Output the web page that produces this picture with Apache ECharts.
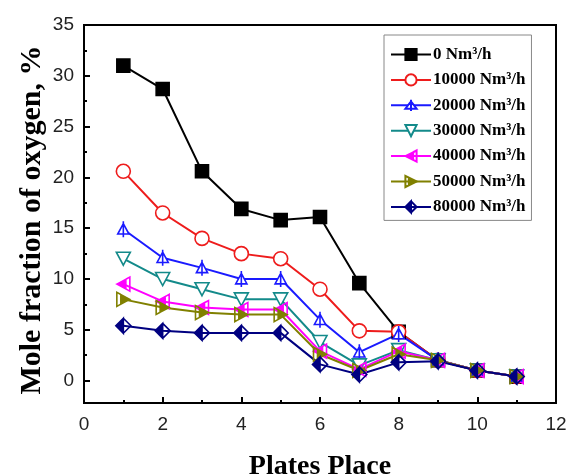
<!DOCTYPE html>
<html>
<head>
<meta charset="utf-8">
<script src="https://cdn.jsdelivr.net/npm/echarts@6/dist/echarts.min.js"></script>
<style>
    html, body {margin: 0; padding: 0; background: #fff;}
    #main {width: 571px; height: 476px;}
</style>
</head>
<body>
<div id="main"></div>
<script>
// 塔板位置
var plates = [1, 2, 3, 4, 5, 6, 7, 8, 9, 10, 11];
var names = ['0 Nm³/h', '10000 Nm³/h', '20000 Nm³/h', '30000 Nm³/h', '40000 Nm³/h', '50000 Nm³/h', '80000 Nm³/h'];
var o0 = [31.0, 28.7, 20.6, 16.9, 15.8, 16.1, 9.6, 4.8, 2.0, 1.0, 0.4];
var o10000 = [20.6, 16.5, 14.0, 12.5, 12.0, 9.0, 4.9, 4.8, 2.0, 1.0, 0.4];
var o20000 = [14.9, 12.1, 11.1, 10.0, 10.0, 6.0, 2.8, 4.6, 2.0, 1.0, 0.4];
var o30000 = [12.0, 10.0, 9.0, 8.0, 8.0, 3.8, 1.5, 3.0, 2.0, 1.0, 0.4];
var o40000 = [9.5, 7.8, 7.2, 7.0, 7.0, 2.9, 1.1, 2.9, 2.0, 1.0, 0.4];
var o50000 = [8.0, 7.2, 6.7, 6.5, 6.5, 2.6, 1.0, 2.6, 2.0, 1.0, 0.4];
var o80000 = [5.4, 4.9, 4.7, 4.7, 4.7, 1.6, 0.6, 1.8, 1.9, 1.0, 0.4];
var yMajor = [0, 5, 10, 15, 20, 25, 30, 35];
var yMinor = [2.5, 7.5, 12.5, 17.5, 22.5, 27.5, 32.5];

var myChart = echarts.init(document.getElementById('main'));

function pairs(arr) {
    return arr.map(function (v, i) { return [plates[i], v]; });
}

// 半填充符号：填充一半，另一半用来回折线只描边
var triUpPlus = 'path://M0,-7L7,6L-7,6Z M0,-10L0,10L0,-10Z';
var triDown = 'path://M0,7L7,-6L-7,-6Z';
var triLeftHalf = 'path://M-7,0L2,-4.8L2,4.8Z M2,-4.8L6,-7L6,7L2,4.8L6,7L6,-7Z';
var triRightHalf = 'path://M7,0L-2,-4.8L-2,4.8Z M-2,-4.8L-6,-7L-6,7L-2,4.8L-6,7L-6,-7Z';
var diamondHalf = 'path://M0,-7L-7,0L0,7Z M0,-7L7,0L0,7L7,0Z';

function makeSeries(name, data, color, symbol, size, fill) {
    return {
        name: name,
        type: 'line',
        data: pairs(data),
        symbol: symbol,
        symbolSize: size,
        symbolKeepAspect: true,
        lineStyle: {color: color, width: 2},
        itemStyle: {color: fill, borderColor: color, borderWidth: 1.6},
        emphasis: {disabled: true},
        animation: false
    };
}

var option = {
    backgroundColor: '#fff',
    grid: {
        left: 84, right: 15, top: 25, bottom: 73,
        outerBoundsMode: 'none',
        containLabel: false,
        show: true, borderColor: '#000', borderWidth: 2
    },
    graphic: [{
        type: 'text',
        x: 32,
        y: 220,
        rotation: Math.PI / 2,
        style: {
            text: 'Mole fraction of oxygen, %',
            fontFamily: 'Liberation Serif',
            fontWeight: 'bold',
            fontSize: 30,
            fill: '#000',
            align: 'center',
            verticalAlign: 'middle'
        }
    }],
    legend: {
        orient: 'vertical',
        left: 384,
        top: 35,
        width: 148,
        padding: [11, 6, 5, 6],
        itemWidth: 40,
        itemHeight: 14,
        itemGap: 8.4,
        borderColor: '#888',
        borderWidth: 1,
        backgroundColor: '#fff',
        textStyle: {
            fontFamily: 'Liberation Serif',
            fontWeight: 'bold',
            fontSize: 17,
            color: '#000',
            padding: [0, 0, 0, -3]
        },
        data: names
    },
    xAxis: {
        type: 'value',
        min: 0,
        max: 12,
        interval: 2,
        name: 'Plates Place',
        nameLocation: 'middle',
        nameGap: 50,
        nameTextStyle: {fontFamily: 'Liberation Serif', fontWeight: 'bold', fontSize: 28, color: '#000'},
        axisLine: {onZero: false, lineStyle: {color: '#000', width: 2}},
        axisTick: {inside: true, length: 6, lineStyle: {color: '#000', width: 2}},
        minorTick: {show: true, splitNumber: 2, length: 3, lineStyle: {color: '#000', width: 2}},
        axisLabel: {fontFamily: 'Liberation Sans', fontSize: 19, color: '#222', margin: 12},
        splitLine: {show: false}
    },
    yAxis: [{
        type: 'value',
        min: -2.2,
        max: 35,
        axisLine: {onZero: false, lineStyle: {color: '#000', width: 2}},
        axisTick: {inside: true, length: 6, customValues: yMajor, lineStyle: {color: '#000', width: 2}},
        axisLabel: {fontFamily: 'Liberation Sans', fontSize: 19, color: '#222', margin: 10, customValues: yMajor},
        splitLine: {show: false}
    }, {
        type: 'value',
        min: -2.2,
        max: 35,
        position: 'left',
        axisLine: {show: false},
        axisTick: {inside: true, length: 3, customValues: yMinor, lineStyle: {color: '#000', width: 2}},
        axisLabel: {show: false},
        splitLine: {show: false}
    }],
    series: [
        makeSeries(names[0], o0, '#000000', 'rect', 13, '#000000'),
        makeSeries(names[1], o10000, '#ee1c1c', 'circle', 14, '#ffffff'),
        makeSeries(names[2], o20000, '#1a1aff', triUpPlus, 16, '#ffffff'),
        makeSeries(names[3], o30000, '#138a8a', triDown, 14, '#ffffff'),
        makeSeries(names[4], o40000, '#ff00ff', triLeftHalf, 14, '#ff00ff'),
        makeSeries(names[5], o50000, '#808000', triRightHalf, 14, '#808000'),
        makeSeries(names[6], o80000, '#000080', diamondHalf, 15, '#000080')
    ]
};

myChart.setOption(option);
</script>
</body>
</html>
